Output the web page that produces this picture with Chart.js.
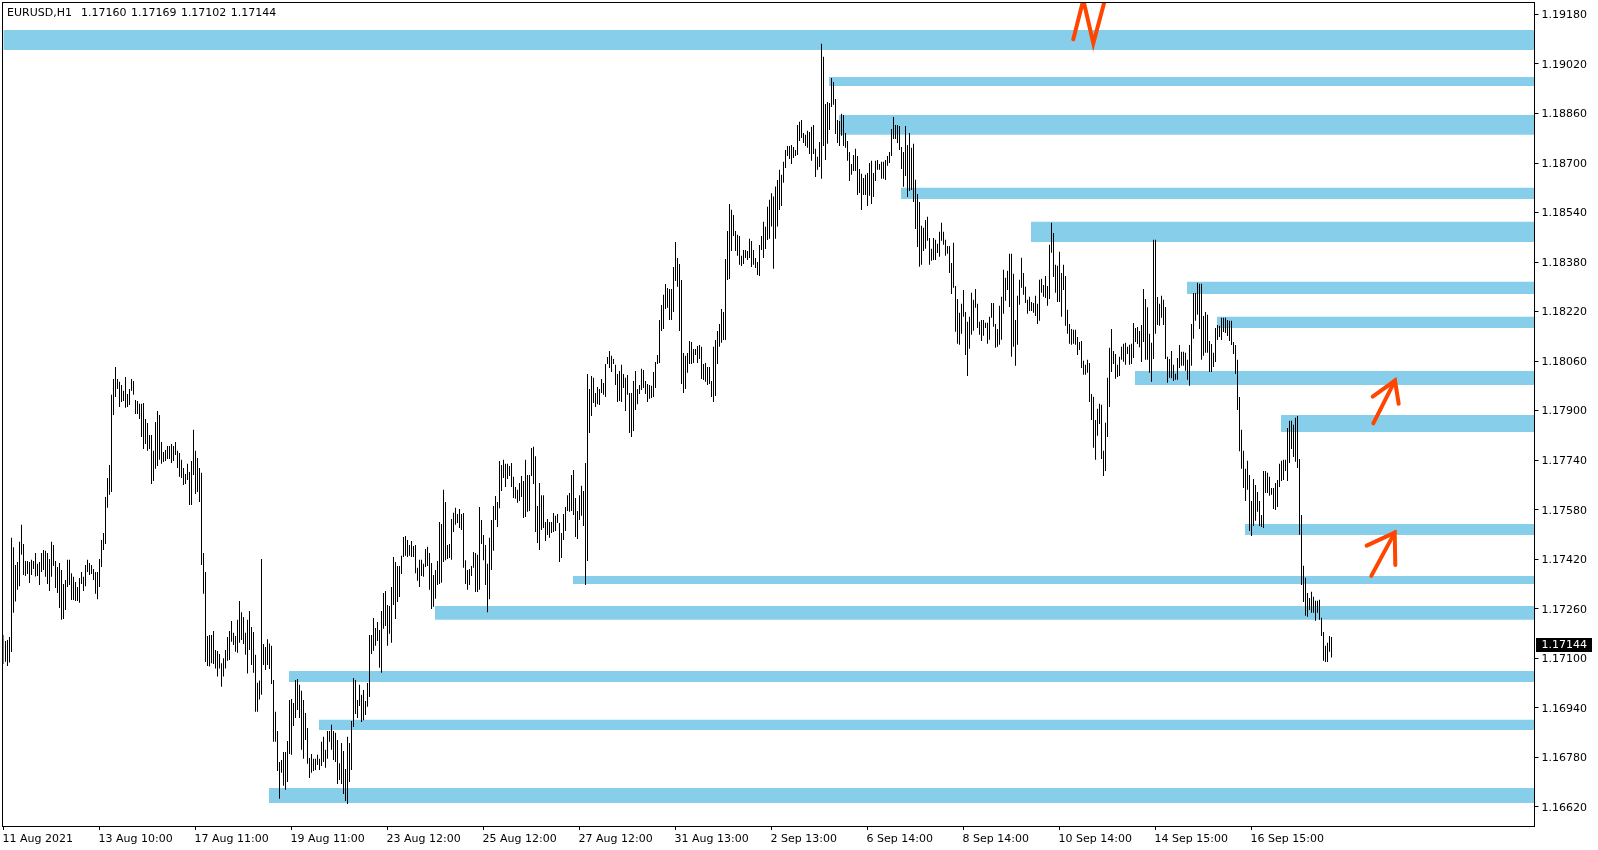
<!DOCTYPE html>
<html>
<head>
<meta charset="utf-8">
<title>EURUSD,H1</title>
<script src="https://cdn.jsdelivr.net/npm/chart.js@4/dist/chart.umd.min.js"></script>
<style>
  html, body { margin: 0; padding: 0; background: #fff; }
  canvas { display: block; }
</style>
</head>
<body>
<canvas id="myChart" width="1598" height="850"></canvas>
<script>
// quotes are in points: 17175 means 1.17175
const barHighs = [
  17175,17156,17159,17169,17489,17459,17401,17411,17476,17531,
  17469,17414,17414,17411,17418,17414,17440,17405,17411,17440,
  17450,17447,17440,17421,17476,17466,17414,17395,17408,17385,
  17340,17353,17418,17418,17375,17363,17346,17330,17359,17379,
  17363,17401,17418,17408,17401,17388,17379,17379,17421,17482,
  17505,17621,17682,17724,17951,18002,18041,18002,17993,17983,
  17964,18009,17954,17970,18002,17996,17934,17931,17922,17922,
  17925,17873,17860,17821,17821,17770,17863,17899,17886,17799,
  17766,17773,17786,17786,17792,17786,17799,17770,17763,17741,
  17715,17695,17728,17702,17737,17838,17770,17747,17715,17699,
  17440,17379,17172,17175,17175,17188,17127,17123,17114,17084,
  17100,17127,17169,17188,17220,17182,17172,17224,17285,17249,
  17233,17182,17224,17253,17201,17185,17111,17021,17028,17421,
  17146,17136,17161,17148,17140,17030,16927,16865,16765,16771,
  16797,16797,16833,16965,16968,16955,17030,17033,17014,16995,
  16965,16923,16875,16778,16791,16775,16775,16788,16775,16830,
  16846,16804,16865,16865,16885,16865,16859,16836,16761,16826,
  16800,16742,16846,16826,16897,17036,17030,16965,17014,16982,
  16997,16962,17020,17175,17175,17230,17198,17217,17191,17253,
  17311,17317,17272,17269,17330,17427,17411,17398,17398,17431,
  17492,17495,17482,17466,17479,17463,17466,17392,17418,17418,
  17405,17453,17460,17440,17408,17369,17385,17414,17540,17534,
  17644,17605,17466,17469,17550,17570,17586,17566,17582,17566,
  17569,17417,17385,17388,17398,17443,17440,17434,17589,17547,
  17498,17466,17405,17489,17547,17592,17624,17605,17737,17724,
  17741,17728,17728,17721,17731,17686,17653,17644,17666,17689,
  17673,17741,17692,17692,17779,17783,17753,17592,17666,17627,
  17627,17540,17550,17540,17540,17569,17560,17566,17537,17505,
  17566,17589,17627,17634,17692,17708,17618,17576,17627,17657,
  17640,17731,18018,17970,18012,18006,17957,17976,17970,18002,
  17989,18051,18073,18093,18077,18067,18048,18018,18028,18048,
  18018,18006,18015,17957,17957,17996,18028,17970,17983,18035,
  18031,17996,17986,17983,17980,18025,18057,18080,18193,18241,
  18274,18309,18296,18293,18293,18364,18445,18393,18374,18322,
  18086,18077,18086,18125,18122,18099,18099,18109,18112,18106,
  18051,18054,18041,18041,17996,18106,18128,18157,18180,18228,
  18219,18390,18480,18568,18549,18532,18480,18468,18464,18400,
  18419,18419,18416,18455,18448,18419,18393,18380,18435,18464,
  18510,18494,18559,18581,18602,18592,18624,18645,18678,18662,
  18704,18742,18755,18755,18758,18752,18742,18823,18833,18839,
  18797,18791,18804,18800,18817,18823,18746,18720,18768,19085,
  19043,18891,18897,18894,18975,18962,18907,18839,18836,18859,
  18855,18797,18771,18736,18697,18726,18746,18723,18681,18665,
  18652,18662,18668,18700,18707,18668,18707,18710,18697,18704,
  18704,18710,18723,18736,18810,18849,18823,18823,18820,18752,
  18736,18820,18758,18797,18749,18762,18646,18600,18574,18497,
  18491,18516,18526,18458,18423,18458,18452,18439,18478,18507,
  18478,18452,18432,18432,18377,18442,18303,18261,18216,18245,
  18290,18219,18187,18203,18281,18258,18293,18245,18187,18193,
  18193,18184,18184,18203,18248,18248,18180,18164,18239,18268,
  18355,18329,18352,18407,18407,18342,18193,18271,18323,18394,
  18345,18300,18258,18268,18251,18248,18271,18245,18323,18326,
  18306,18335,18303,18436,18507,18474,18371,18368,18413,18345,
  18371,18335,18226,18180,18164,18161,18161,18138,18122,18125,
  18061,18048,18064,18054,17954,17945,17870,17906,17922,17919,
  17770,17861,18006,18103,18164,18093,18083,18048,18074,18106,
  18116,18119,18106,18113,18116,18183,18167,18170,18157,18177,
  18293,18261,18234,18148,18119,18452,18452,18267,18245,18271,
  18258,18235,18074,18067,18093,18048,18019,18070,18112,18090,
  18090,18087,18064,18112,18180,18280,18280,18313,18310,18310,
  18206,18219,18210,18125,18115,18087,18167,18177,18174,18200,
  18200,18200,18193,18190,18190,18122,18112,18064,17944,17838,
  17770,17712,17738,17692,17608,17679,17660,17637,17608,17563,
  17705,17705,17699,17686,17650,17650,17666,17676,17728,17738,
  17741,17741,17844,17867,17867,17854,17877,17883,17744,17563,
  17399,17360,17311,17295,17315,17299,17286,17286,17289,17231,
  17185,17140,17150,17172,17169
];
const barLows = [
  17081,17089,17075,17086,17120,17247,17283,17321,17333,17434,
  17369,17366,17372,17343,17369,17388,17364,17366,17337,17379,
  17385,17363,17340,17317,17363,17398,17327,17311,17262,17224,
  17227,17256,17330,17337,17288,17288,17285,17285,17279,17340,
  17317,17333,17379,17369,17372,17353,17308,17291,17330,17395,
  17450,17469,17586,17628,17637,17886,17944,17970,17912,17928,
  17931,17909,17912,17918,17964,17951,17889,17889,17873,17815,
  17776,17792,17770,17776,17663,17673,17712,17721,17741,17728,
  17734,17737,17744,17744,17731,17737,17757,17715,17686,17682,
  17660,17663,17676,17595,17595,17692,17631,17637,17605,17401,
  17308,17088,17075,17073,17084,17081,17067,17041,17067,17008,
  17041,17067,17092,17094,17153,17143,17121,17118,17150,17159,
  17146,17111,17051,17127,17078,17053,16927,16927,16967,16982,
  17078,17062,17078,17065,17017,16830,16830,16736,16646,16730,
  16688,16675,16700,16791,16788,16881,16907,16933,16907,16804,
  16775,16836,16759,16713,16730,16736,16739,16755,16739,16752,
  16765,16746,16775,16830,16804,16771,16765,16694,16707,16694,
  16661,16639,16629,16700,16739,16878,16920,16907,16946,16894,
  16900,16917,16943,16975,17114,17124,17140,17156,17069,17053,
  17195,17204,17140,17179,17150,17272,17227,17282,17298,17372,
  17427,17431,17427,17431,17427,17427,17375,17350,17330,17366,
  17363,17395,17398,17321,17259,17266,17292,17337,17340,17344,
  17411,17417,17421,17424,17418,17508,17531,17537,17521,17514,
  17392,17340,17321,17337,17366,17392,17314,17314,17321,17469,
  17417,17337,17249,17291,17385,17447,17547,17524,17585,17640,
  17682,17653,17679,17689,17653,17618,17615,17602,17608,17621,
  17553,17556,17573,17576,17689,17663,17508,17472,17450,17514,
  17521,17479,17498,17489,17505,17508,17511,17537,17411,17424,
  17482,17511,17576,17573,17576,17563,17492,17485,17547,17560,
  17527,17337,17414,17828,17883,17925,17912,17921,17918,17957,
  17951,17944,18051,18038,18025,18051,17983,17928,17931,17928,
  17973,17899,17951,17828,17815,17834,17902,17921,17954,17967,
  17973,17954,17928,17938,17941,17944,17973,18051,18054,18157,
  18164,18228,18232,18193,18193,18219,18319,18300,18157,17986,
  17957,17970,18022,18051,18051,18054,18080,18054,18067,18002,
  17999,17993,17983,17986,17944,17928,17947,18051,18106,18119,
  18128,18128,18322,18325,18416,18464,18416,18400,18371,18367,
  18374,18393,18387,18393,18364,18371,18361,18338,18335,18419,
  18393,18422,18451,18455,18495,18358,18455,18495,18548,18561,
  18636,18684,18723,18713,18697,18716,18723,18726,18771,18781,
  18765,18755,18749,18729,18707,18729,18655,18678,18687,18649,
  18755,18710,18762,18807,18881,18888,18794,18765,18755,18788,
  18755,18749,18707,18642,18662,18674,18674,18597,18603,18548,
  18597,18597,18561,18594,18568,18590,18642,18678,18678,18649,
  18649,18645,18691,18700,18723,18778,18778,18765,18742,18681,
  18623,18658,18590,18610,18613,18574,18487,18429,18365,18371,
  18416,18423,18449,18371,18384,18387,18387,18409,18397,18449,
  18436,18400,18407,18345,18277,18297,18155,18116,18113,18148,
  18203,18080,18012,18100,18145,18158,18232,18167,18145,18125,
  18142,18167,18116,18129,18200,18171,18103,18106,18113,18129,
  18213,18255,18290,18235,18074,18106,18045,18113,18242,18297,
  18274,18248,18213,18222,18222,18216,18206,18180,18190,18281,
  18268,18264,18239,18261,18410,18332,18281,18251,18251,18203,
  18290,18174,18148,18116,18113,18116,18113,18080,18096,18038,
  18016,18016,18022,17928,17870,17780,17741,17819,17857,17744,
  17689,17705,17815,17912,18025,18051,18003,18009,18012,18064,
  18058,18048,18083,18048,18051,18070,18122,18115,18105,18057,
  18122,18064,18064,18022,17993,18067,18148,18177,18174,18200,
  18177,18067,17990,18006,18005,17996,18000,18000,18038,18045,
  18045,18029,18000,17980,18045,18132,18190,18210,18164,18064,
  18077,18087,18087,18025,18025,18041,18057,18128,18138,18128,
  18154,18151,18141,18125,18112,18083,18018,17902,17769,17712,
  17650,17608,17644,17511,17495,17527,17544,17573,17527,17524,
  17521,17634,17634,17625,17628,17582,17579,17589,17653,17673,
  17676,17705,17673,17731,17776,17750,17735,17715,17499,17337,
  17282,17237,17234,17256,17247,17247,17221,17247,17224,17172,
  17092,17088,17088,17121,17102
];

// support / resistance zones, they start at a bar and run to the right edge
const zoneStartBars = [-0.25, 412.75, 417.75, 448.75, 513.75, 591.75, 606.75, 565.75, 638.75, 620.75, 284.75, 215.75, 142.75, 157.75, 132.75];
const zoneTops =    [19130, 18978, 18855, 18620, 18510, 18316, 18203, 18028, 17886, 17534, 17366, 17269, 17059, 16901, 16681];
const zoneBottoms = [19065, 18949, 18791, 18584, 18445, 18277, 18167, 17983, 17831, 17498, 17340, 17224, 17023, 16868, 16632];

// hand drawn marks, x in bars and y in points
const penN = [[534.9, 19100], [539.9, 19227], [544.9, 19087], [550.7, 19227]];
const penUpperShaft = [[684.9, 17859], [695.75, 17997]];
const penUpperHead = [[684.6, 17945], [695.75, 17997], [697.6, 17922]];
const penLowerShaft = [[683.9, 17366], [695.6, 17506]];
const penLowerHead = [[681.6, 17464], [695.6, 17506], [695.9, 17401]];

const timeLabels = [
  "11 Aug 2021", "13 Aug 10:00", "17 Aug 11:00", "19 Aug 11:00", "23 Aug 12:00",
  "25 Aug 12:00", "27 Aug 12:00", "31 Aug 13:00", "2 Sep 13:00", "6 Sep 14:00",
  "8 Sep 14:00", "10 Sep 14:00", "14 Sep 15:00", "16 Sep 15:00"
];
const barsPerTimeLabel = 48;
const priceTicks = [
  1.1662, 1.1678, 1.1694, 1.171, 1.1726, 1.1742, 1.1758, 1.1774, 1.179,
  1.1806, 1.1822, 1.1838, 1.1854, 1.187, 1.1886, 1.1902, 1.1918
];
const priceMin = 1.16558;
const priceMax = 1.19217;
const lastBar = 765.5;
const lastPrice = 1.17144;
const headerText = "EURUSD,H1  1.17160 1.17169 1.17102 1.17144";

function toPrice(points) {
  return 1 + points / 100000;
}

function penDataset(stroke) {
  return {
    type: "line",
    order: 1,
    data: stroke.map(([x, y]) => ({ x: x, y: toPrice(y) })),
    borderColor: "#FF4500",
    borderWidth: 4,
    borderCapStyle: "round",
    borderJoinStyle: "miter",
    pointRadius: 0,
    tension: 0,
    fill: false,
  };
}

const zoneDatasets = zoneStartBars.map((start, i) => ({
  type: "line",
  order: 3,
  clip: 0.5,
  data: [
    { x: start, y: toPrice(zoneTops[i]) },
    { x: lastBar, y: toPrice(zoneTops[i]) },
  ],
  borderWidth: 0,
  pointRadius: 0,
  backgroundColor: "#87CEEB",
  fill: { value: toPrice(zoneBottoms[i]) },
}));

const barDataset = {
  type: "bar",
  order: 2,
  data: barHighs.map((high, i) => ({ x: i, y: [toPrice(barLows[i]), toPrice(high)] })),
  backgroundColor: "#000000",
  borderWidth: 0,
  barThickness: 1,
  inflateAmount: 0,
};

// frame, header line and the black price tag
const terminalDecor = {
  id: "terminalDecor",
  afterDraw(chart) {
    const { ctx, chartArea, scales } = chart;
    ctx.save();
    ctx.strokeStyle = "#000";
    ctx.lineWidth = 1;
    ctx.strokeRect(chartArea.left - 1, chartArea.top - 0.5, chartArea.width + 1, chartArea.height + 1);

    ctx.font = "11px 'DejaVu Sans'";
    ctx.textBaseline = "middle";
    ctx.fillStyle = "#000";
    ctx.wordSpacing = "1px";
    ctx.fillText(headerText, 7, 13.5);
    ctx.wordSpacing = "0px";

    const tagY = Math.round(scales.y.getPixelForValue(lastPrice));
    ctx.fillRect(1536, tagY - 7, 56, 14);
    ctx.fillStyle = "#fff";
    ctx.fillText(lastPrice.toFixed(5), 1541.5, tagY + 0.5);
    ctx.restore();
  },
};

Chart.defaults.font.family = "'DejaVu Sans'";
Chart.defaults.font.size = 11;
Chart.defaults.color = "#000";

new Chart(document.getElementById("myChart").getContext("2d"), {
  type: "bar",
  data: {
    datasets: [
      ...zoneDatasets,
      barDataset,
      penDataset(penN),
      penDataset(penUpperShaft),
      penDataset(penUpperHead),
      penDataset(penLowerShaft),
      penDataset(penLowerHead),
    ],
  },
  options: {
    responsive: false,
    animation: false,
    layout: { padding: { left: 3.5, top: 3, right: 0, bottom: 0 } },
    plugins: {
      legend: { display: false },
      tooltip: { enabled: false },
      title: { display: false },
    },
    scales: {
      x: {
        type: "linear",
        offset: false,
        min: 0,
        max: lastBar,
        border: { display: false },
        grid: { drawOnChartArea: false, offset: false, tickLength: 4, tickColor: "#000" },
        afterBuildTicks(scale) {
          scale.ticks = timeLabels.map((_, i) => ({ value: i * barsPerTimeLabel }));
        },
        afterFit(scale) {
          scale.height = 24;
          scale.paddingLeft = 0;
          scale.paddingRight = 0;
        },
        ticks: {
          align: "start",
          autoSkip: false,
          maxRotation: 0,
          minRotation: 0,
          padding: 3,
          labelOffset: -1,
          color: "#000",
          callback: (value) => timeLabels[value / barsPerTimeLabel],
        },
      },
      y: {
        type: "linear",
        position: "right",
        min: priceMin,
        max: priceMax,
        border: { display: false },
        grid: { drawOnChartArea: false, tickLength: 4, tickColor: "#000" },
        afterBuildTicks(scale) {
          scale.ticks = priceTicks.map((value) => ({ value: value }));
        },
        afterFit(scale) {
          scale.width = 63.5;
          scale.paddingTop = 0;
          scale.paddingBottom = 0;
        },
        ticks: {
          autoSkip: false,
          padding: 3,
          labelOffset: 1,
          color: "#000",
          callback: (value) => value.toFixed(5),
        },
      },
    },
  },
  plugins: [terminalDecor],
});
</script>
</body>
</html>
